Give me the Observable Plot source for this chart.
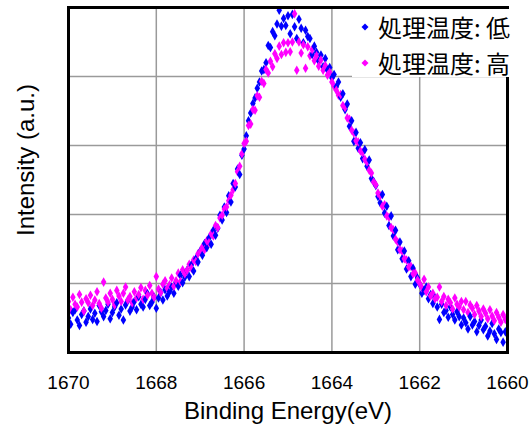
<!DOCTYPE html>
<html><head><meta charset="utf-8">
<script src="https://cdn.jsdelivr.net/npm/d3@7"></script>
<script src="https://cdn.jsdelivr.net/npm/@observablehq/plot@0.6"></script>
<style>
body{margin:0;background:#fff;}
#wrap{position:relative;width:530px;height:428px;}
#legend{position:absolute;left:352px;top:9px;width:170px;height:68px;background:#fff;font-family:"Noto Sans CJK JP";font-size:24px;color:#000;}
.row{position:absolute;left:0;height:24px;line-height:24px;white-space:nowrap;}
.row svg{position:absolute;left:9px;top:8px;}
.row span{position:absolute;left:26px;top:0;}
</style></head><body><div id="wrap"></div>
<script>
const energy = [
1670.00,1669.95,1669.90,1669.85,1669.80,1669.75,1669.70,1669.65,1669.60,1669.55,
1669.50,1669.45,1669.40,1669.35,1669.30,1669.25,1669.20,1669.15,1669.10,1669.05,
1669.00,1668.95,1668.90,1668.85,1668.80,1668.75,1668.70,1668.65,1668.60,1668.55,
1668.50,1668.45,1668.40,1668.35,1668.30,1668.25,1668.20,1668.15,1668.10,1668.05,
1668.00,1667.95,1667.90,1667.85,1667.80,1667.75,1667.70,1667.65,1667.60,1667.55,
1667.50,1667.45,1667.40,1667.35,1667.30,1667.25,1667.20,1667.15,1667.10,1667.05,
1667.00,1666.95,1666.90,1666.85,1666.80,1666.75,1666.70,1666.65,1666.60,1666.55,
1666.50,1666.45,1666.40,1666.35,1666.30,1666.25,1666.20,1666.15,1666.10,1666.05,
1666.00,1665.95,1665.90,1665.85,1665.80,1665.75,1665.70,1665.65,1665.60,1665.55,
1665.50,1665.45,1665.40,1665.35,1665.30,1665.25,1665.20,1665.15,1665.10,1665.05,
1665.00,1664.95,1664.90,1664.85,1664.80,1664.75,1664.70,1664.65,1664.60,1664.55,
1664.50,1664.45,1664.40,1664.35,1664.30,1664.25,1664.20,1664.15,1664.10,1664.05,
1664.00,1663.95,1663.90,1663.85,1663.80,1663.75,1663.70,1663.65,1663.60,1663.55,
1663.50,1663.45,1663.40,1663.35,1663.30,1663.25,1663.20,1663.15,1663.10,1663.05,
1663.00,1662.95,1662.90,1662.85,1662.80,1662.75,1662.70,1662.65,1662.60,1662.55,
1662.50,1662.45,1662.40,1662.35,1662.30,1662.25,1662.20,1662.15,1662.10,1662.05,
1662.00,1661.95,1661.90,1661.85,1661.80,1661.75,1661.70,1661.65,1661.60,1661.55,
1661.50,1661.45,1661.40,1661.35,1661.30,1661.25,1661.20,1661.15,1661.10,1661.05,
1661.00,1660.95,1660.90,1660.85,1660.80,1660.75,1660.70,1660.65,1660.60,1660.55,
1660.50,1660.45,1660.40,1660.35,1660.30,1660.25,1660.20,1660.15,1660.10,1660.05,
1660.00];
const lowTemp = [
0.50,0.41,0.58,0.62,0.47,0.39,0.55,0.60,0.44,0.52,
0.63,0.48,0.57,0.45,0.68,0.59,0.52,0.61,0.70,0.49,
0.58,0.66,0.72,0.54,0.63,0.47,0.69,0.75,0.60,0.66,
0.74,0.62,0.81,0.70,0.66,0.77,0.85,0.68,0.73,0.80,
0.64,0.79,0.87,0.76,0.91,0.82,0.88,0.95,0.86,1.02,
0.96,1.12,1.01,1.09,1.19,1.10,1.27,1.18,1.36,1.31,
1.47,1.41,1.58,1.52,1.66,1.57,1.77,1.70,1.80,1.99,
1.92,2.11,2.03,2.27,2.18,2.45,2.40,2.66,2.58,2.86,
2.95,3.14,3.36,3.47,3.61,3.69,3.83,3.92,4.08,4.10,
4.20,4.45,4.42,4.65,4.59,4.76,4.96,4.73,4.84,4.74,
4.88,4.62,4.90,4.72,4.55,4.83,4.70,4.49,4.67,4.58,
4.55,4.32,4.44,4.35,4.22,4.31,4.14,4.26,4.09,4.13,
3.98,4.03,3.85,3.92,3.70,3.75,3.52,3.60,3.28,3.36,
3.06,3.19,2.96,3.04,2.81,2.94,2.70,2.79,2.52,2.48,
2.42,2.26,2.17,2.29,2.02,2.12,1.84,1.98,1.69,1.77,
1.49,1.60,1.36,1.47,1.21,1.33,1.10,1.22,0.99,1.08,
0.99,0.86,0.90,0.95,0.78,0.84,0.71,0.79,0.66,0.48,
0.70,0.58,0.61,0.51,0.66,0.55,0.47,0.59,0.52,0.40,
0.50,0.43,0.34,0.52,0.40,0.45,0.30,0.39,0.47,0.33,
0.38,0.24,0.31,0.42,0.27,0.19,0.34,0.29,0.15,0.30,
0.26];
const highTemp = [
0.74,0.62,0.80,0.70,0.66,0.84,0.73,0.60,0.78,0.72,
0.83,0.68,0.76,0.88,0.71,0.64,1.02,0.79,0.73,0.86,
0.77,0.69,0.90,0.82,0.74,0.86,0.95,0.76,0.81,0.72,
0.88,0.79,0.84,0.94,0.77,0.90,0.83,0.97,0.86,0.80,
1.10,0.92,0.87,0.99,1.04,0.93,0.98,1.08,0.96,1.04,
1.15,1.03,1.20,1.14,1.19,1.28,1.22,1.34,1.32,1.43,
1.46,1.53,1.49,1.62,1.59,1.72,1.69,1.84,1.81,1.95,
1.99,2.08,2.11,2.20,2.28,2.36,2.45,2.62,2.70,2.88,
3.03,3.06,3.29,3.31,3.52,3.51,3.72,3.70,3.93,3.90,
4.10,4.05,4.22,4.14,4.33,4.26,4.44,4.32,4.49,4.35,
4.49,4.36,4.50,4.91,4.09,4.50,4.34,4.46,4.12,4.43,
4.30,4.39,4.23,4.30,4.15,4.24,4.09,4.16,4.02,4.06,
3.92,3.86,3.80,3.73,3.74,3.58,3.55,3.40,3.38,3.22,
3.18,3.07,3.05,2.92,2.90,2.80,2.76,2.64,2.60,2.47,
2.43,2.31,2.27,2.12,2.14,1.98,1.96,1.81,1.78,1.64,
1.60,1.49,1.47,1.36,1.34,1.24,1.25,1.14,1.15,1.05,
1.00,0.94,1.06,0.88,0.95,0.82,0.86,0.78,0.80,0.95,
0.74,0.81,0.68,0.77,0.72,0.63,0.79,0.70,0.66,0.74,
0.62,0.74,0.58,0.69,0.64,0.55,0.68,0.60,0.52,0.63,
0.57,0.49,0.62,0.53,0.46,0.58,0.51,0.44,0.55,0.48,
0.47];
const seriesNames = ["処理温度: 低", "処理温度: 高"];
const seriesColors = ["#0000ff", "#ff00ff"];
const xTicks = [1670, 1668, 1666, 1664, 1662, 1660];
const yGrid = [0, 1, 2, 3, 4, 5];
const xLabel = "Binding Energy(eV)";
const yLabel = "Intensity (a.u.)";

const data = energy.flatMap((e, i) => [
  {e, v: lowTemp[i], s: seriesNames[0]},
  {e, v: highTemp[i], s: seriesNames[1]}
]);

const chart = Plot.plot({
  width: 530, height: 428,
  marginLeft: 68, marginRight: 23, marginTop: 7, marginBottom: 76,
  style: {fontFamily: "Liberation Sans", fontSize: "19px", color: "#000", background: "#fff", overflow: "visible"},
  x: {domain: [1670, 1660], label: null},
  y: {domain: [0, 5], label: null},
  color: {domain: seriesNames, range: seriesColors},
  marks: [
    Plot.gridX(xTicks, {stroke: "#9a9a9a", strokeOpacity: 1, strokeWidth: 1.5}),
    Plot.gridY(yGrid, {stroke: "#9a9a9a", strokeOpacity: 1, strokeWidth: 1.5}),
    Plot.dot(data, {x: "e", y: "v", fill: "s", symbol: "diamond", r: 2.9, clip: true}),
    Plot.frame({stroke: "#000", strokeWidth: 3}),
    Plot.axisX(xTicks, {tickSize: 0, tickPadding: 23, fontSize: 19, tickFormat: d => String(d), label: null}),
    Plot.axisY([], {tickSize: 0, label: null}),
    Plot.text([xLabel], {frameAnchor: "bottom", dy: 66, fontSize: 24, fill: "#000"}),
    Plot.text([yLabel], {frameAnchor: "left", textAnchor: "middle", dx: -42, dy: -20, rotate: -90, fontSize: 24, fill: "#000"})
  ]
});
const wrap = document.getElementById("wrap");
wrap.appendChild(chart);

const legend = document.createElement("div");
legend.id = "legend";
seriesNames.forEach((name, i) => {
  const row = document.createElement("div");
  row.className = "row";
  row.style.top = (i === 0 ? 6 : 42) + "px";
  row.innerHTML = `<svg width="8" height="8" viewBox="-4 -4 8 8"><path d="M0,-3.5L3.5,0L0,3.5L-3.5,0Z" fill="${seriesColors[i]}"/></svg><span>${name}</span>`;
  legend.appendChild(row);
});
wrap.appendChild(legend);
</script>
</body></html>
